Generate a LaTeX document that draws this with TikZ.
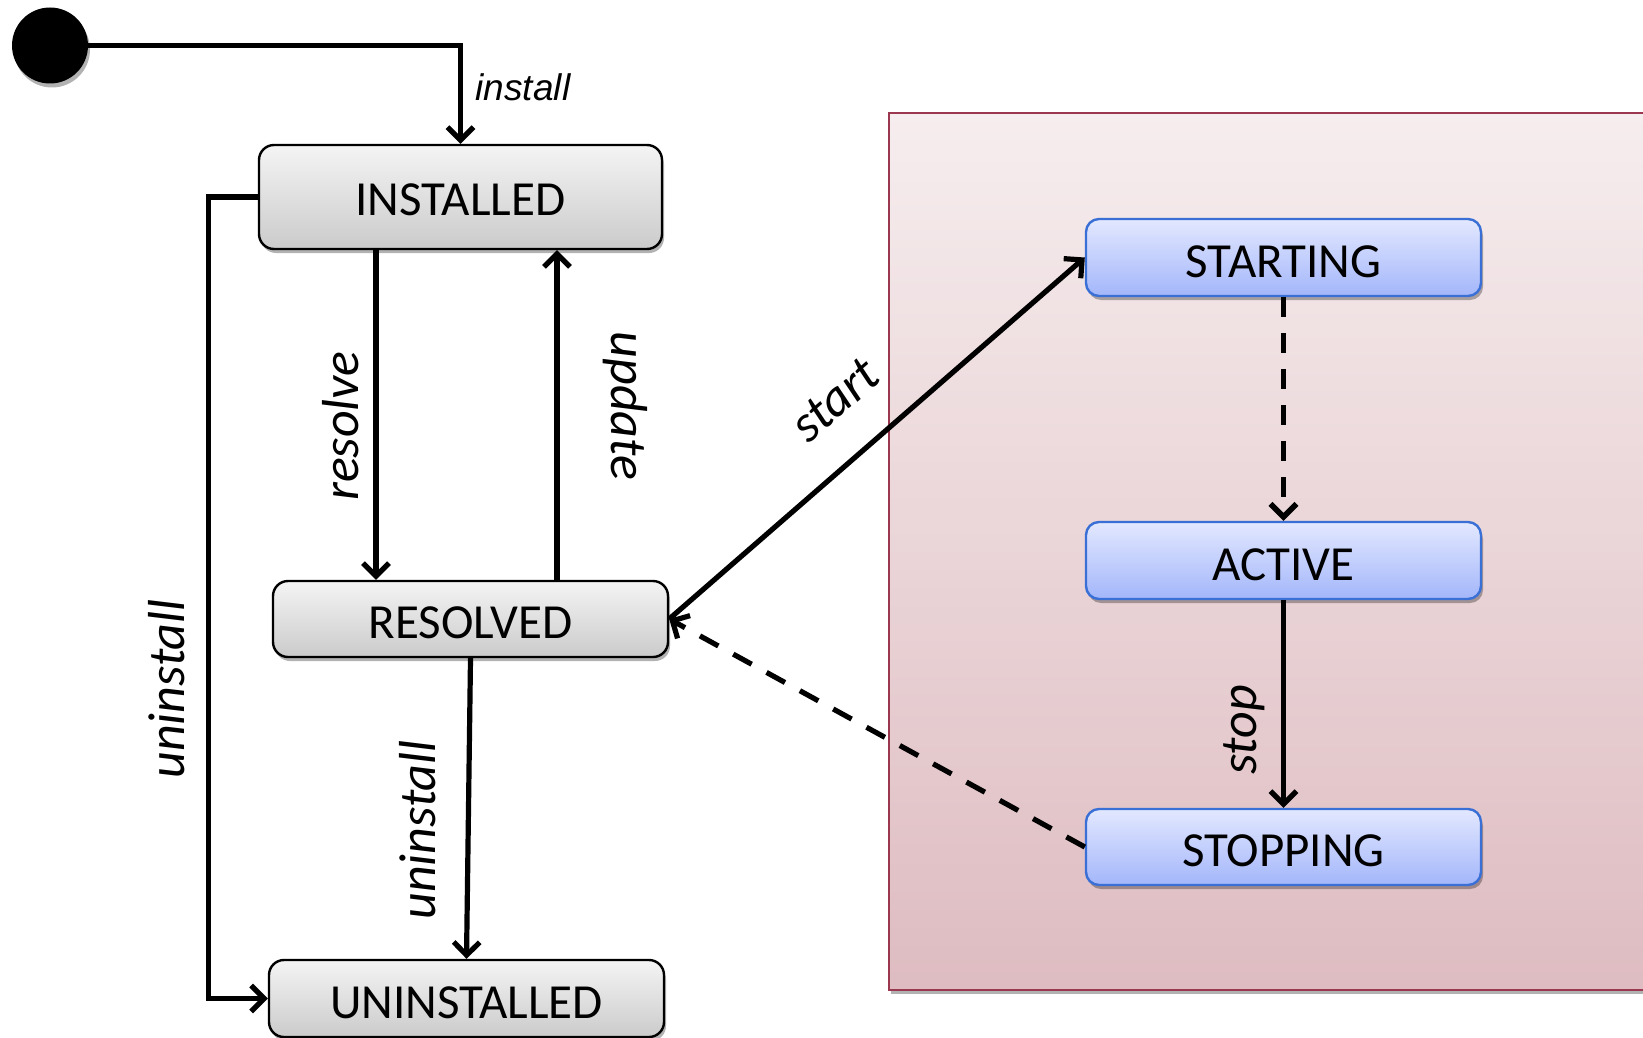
\documentclass[tikz,border=0pt]{standalone}
\usepackage{fontspec}
\setmainfont{Carlito}
\newfontfamily\arialfont{Liberation Sans}
\usetikzlibrary{arrows.meta,shadows}
\definecolor{gtop}{RGB}{244,244,244}
\definecolor{gbot}{RGB}{203,203,203}
\definecolor{btop}{RGB}{227,232,255}
\definecolor{bbot}{RGB}{163,182,250}
\definecolor{bdraw}{RGB}{58,112,214}
\definecolor{ptop}{RGB}{246,237,238}
\definecolor{pbot}{RGB}{222,188,193}
\definecolor{pdraw}{RGB}{155,55,78}
\begin{document}
\begin{tikzpicture}[x=0.5pt,y=-0.5pt,
  myshadow/.style={drop shadow={shadow xshift=1pt,shadow yshift=-2pt,opacity=0.3,fill=black}},
  graystate/.style={draw=black,line width=1.2pt,rounded corners=7.5pt,top color=gtop,bottom color=gbot,
     inner sep=0pt,minimum width=197.5pt,minimum height=38pt,text height=19.5pt,text depth=0pt,
     font=\fontsize{24.5}{29}\selectfont,myshadow},
  bluestate/.style={draw=bdraw,line width=1.2pt,rounded corners=6.5pt,top color=btop,bottom color=bbot,
     inner sep=0pt,minimum width=197.5pt,minimum height=38pt,text height=19.5pt,text depth=0pt,
     font=\fontsize{24.5}{29}\selectfont,myshadow},
  lbl/.style={inner sep=0pt,font=\fontsize{26}{30}\selectfont\itshape},
  arr/.style={line width=2.6pt,-{Straight Barb[length=6.5pt,width=13pt]}},
  dasharr/.style={arr,dash pattern=on 10.5pt off 8.5pt}]
\clip (0,0) rectangle (1643,1038);
\fill[white] (0,0) rectangle (1643,1038);

% container
\path[draw=pdraw,line width=1.1pt,top color=ptop,bottom color=pbot,myshadow]
  (889,113) rectangle (1700,990);

% initial node
\node[circle,fill=black,minimum size=38pt,inner sep=0pt,myshadow] (init) at (50,45.5) {};

% states
\node[graystate,minimum width=201.5pt,minimum height=52pt,text height=18pt] (inst) at (460.5,197) {INSTALLED};
\node[graystate] (res) at (470.5,619) {RESOLVED};
\node[graystate,minimum height=38.5pt] (uninst) at (466.5,998.5) {UNINSTALLED};

\node[bluestate,minimum height=38.5pt] (starting) at (1283.5,257.5) {STARTING};
\node[bluestate,minimum height=38.5pt] (active) at (1283.5,560.5) {ACTIVE};
\node[bluestate,minimum height=38pt] (stopping) at (1283.5,847) {STOPPING};

\coordinate (rx) at (376,0);
\coordinate (ux) at (557,0);

% connectors
\draw[arr] (init.east) -| (inst.north);
\draw[arr] (inst.west) -- ++(-49,0) |- (uninst.west);
\draw[arr] (inst.south -| rx) -- (res.north -| rx);
\draw[arr] (res.north -| ux) -- (inst.south -| ux);
\draw[arr] (res.south) -- (uninst.north);
\draw[arr] (res.east) -- (starting.west);
\draw[dasharr] (stopping.west) -- (res.east);
\draw[dasharr,line width=2.8pt,dash pattern=on 10pt off 8pt] (starting.south) -- (active.north);
\draw[arr] (active.south) -- (stopping.north);

% labels
\node[inner sep=0pt,font=\arialfont\itshape\fontsize{18.5}{22}\selectfont] (linstall) at (523,87) {install};
\node[lbl,rotate=90] (lresolve) at (341,426) {resolve};
\node[lbl,rotate=-90] (lupdate) at (625,406) {update};
\node[lbl,rotate=90] (luninst1) at (167,689) {uninstall};
\node[lbl,rotate=90] (luninst2) at (418,830) {uninstall};
\node[lbl,rotate=40.7] (lstart) at (835,400) {start};
\node[lbl,rotate=90] (lstop) at (1244,730) {stop};
\end{tikzpicture}
\end{document}
